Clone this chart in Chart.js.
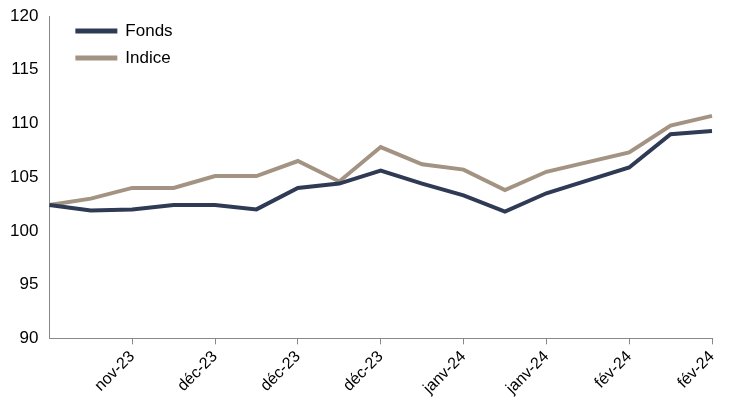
<!DOCTYPE html>
<html><head><meta charset="utf-8">
<script src="https://cdn.jsdelivr.net/npm/chart.js@4"></script>
<style>html,body{margin:0;padding:0;background:#fff}#wrap{width:745px;height:401px}</style>
</head><body><div id="wrap"><canvas id="c"></canvas></div>
<script>
const labels = ['', '', 'nov-23', '', 'déc-23', '', 'déc-23', '', 'déc-23', '', 'janv-24', '', 'janv-24', '', 'fév-24', '', 'fév-24'];
const fonds = [102.4, 101.9, 102.0, 102.4, 102.4, 102.0, 104.0, 104.4, 105.6, 104.4, 103.3, 101.8, 103.5, 104.7, 105.9, 109.0, 109.3];
const indice = [102.4, 103.0, 104.0, 104.0, 105.1, 105.1, 106.5, 104.6, 107.8, 106.2, 105.7, 103.8, 105.5, 106.4, 107.3, 109.8, 110.7];
const seriesNames = ['Fonds', 'Indice'];
const colors = ['#2f3a55', '#a39382'];

const legendPlugin = {
    id: 'insideLegend',
    afterDraw(chart) {
        const ctx = chart.ctx;
        const a = chart.chartArea;
        ctx.save();
        ctx.font = '17px "Liberation Sans", Arial, sans-serif';
        ctx.textBaseline = 'middle';
        seriesNames.forEach((n, i) => {
            const y = a.top + 15 + i * 27;
            ctx.strokeStyle = colors[i];
            ctx.lineWidth = 5;
            ctx.beginPath();
            ctx.moveTo(a.left + 26, y);
            ctx.lineTo(a.left + 68, y);
            ctx.stroke();
            ctx.fillStyle = '#000';
            ctx.fillText(n, a.left + 76, y);
        });
        ctx.restore();
    }
};

new Chart(document.getElementById('c'), {
    type: 'line',
    data: {
        labels: labels,
        datasets: [
            {label: seriesNames[0], data: fonds, borderColor: colors[0], borderWidth: 4, pointRadius: 0, tension: 0},
            {label: seriesNames[1], data: indice, borderColor: colors[1], borderWidth: 4, pointRadius: 0, tension: 0}
        ]
    },
    options: {
        responsive: true,
        maintainAspectRatio: false,
        animation: false,
        layout: {padding: {top: 16, right: 33, left: 7, bottom: 0}},
        plugins: {legend: {display: false}, tooltip: {enabled: false}},
        scales: {
            x: {
                offset: false,
                grid: {display: true, drawOnChartArea: false, drawTicks: true, tickLength: 6, color: '#888'},
                border: {color: '#888', width: 1},
                ticks: {
                    autoSkip: false, maxRotation: 45, minRotation: 45,
                    color: '#000', font: {size: 16, family: '"Liberation Sans", Arial, sans-serif'},
                    callback: (v, i) => labels[i] === '' ? null : labels[i]
                }
            },
            y: {
                min: 90, max: 120,
                grid: {display: false},
                border: {color: '#888', width: 1},
                ticks: {stepSize: 5, color: '#000', font: {size: 17, family: '"Liberation Sans", Arial, sans-serif'}}
            }
        }
    },
    plugins: [legendPlugin]
});
</script></body></html>
